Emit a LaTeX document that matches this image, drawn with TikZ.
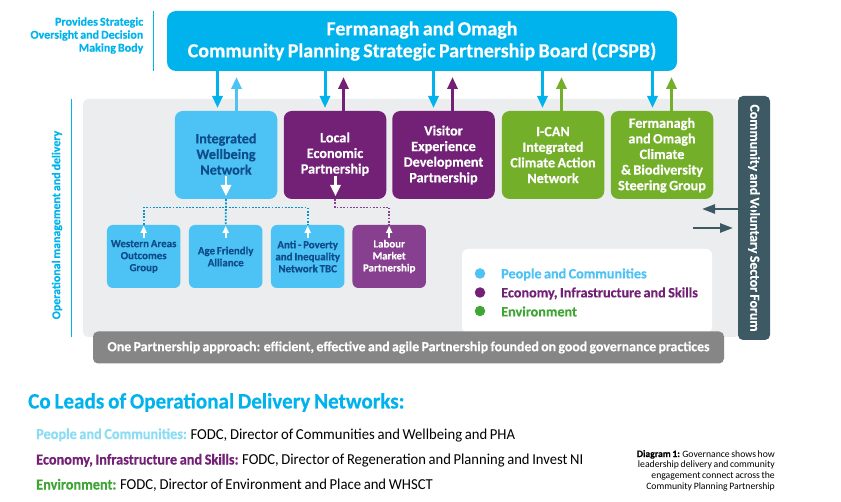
\documentclass[tikz,border=0pt]{standalone}
\usepackage{fontspec}
\setmainfont{Carlito}[WordSpace=0.75,BoldFeatures={FakeBold=0.35}]
\newfontfamily\cndb{Carlito}[FakeStretch=0.94,WordSpace=0.8,BoldFeatures={FakeBold=0.35}]
\newfontfamily\cndr{Carlito}[FakeStretch=0.96,WordSpace=0.8]
\newfontfamily\cndw{Carlito}[FakeStretch=0.965,WordSpace=0.8]
\newfontfamily\cndh{Carlito}[FakeStretch=0.96,WordSpace=0.8,BoldFeatures={FakeBold=0.35}]
\usetikzlibrary{arrows.meta,calc}
\definecolor{boardc}{HTML}{00B3EC}
\definecolor{peoplec}{HTML}{4DC3F5}
\definecolor{navyc}{HTML}{0F4C8A}
\definecolor{purplec}{HTML}{722176}
\definecolor{subpurple}{HTML}{86408F}
\definecolor{greenc}{HTML}{74AF2A}
\definecolor{legendgreen}{HTML}{3FA535}
\definecolor{panelc}{HTML}{EBEDEE}
\definecolor{forumc}{HTML}{3D5A64}
\definecolor{barc}{HTML}{868686}
\definecolor{palec}{HTML}{8ADDF5}
\tikzset{
  big/.style={line width=3pt,-{Triangle[width=10pt,length=12pt]}},
  dots/.style={line width=1.8pt,dash pattern=on 1.8pt off 1.5pt},
  whitearrow/.style={draw=white,line width=2.5pt,-{Triangle[width=10pt,length=11pt]},color=white},
  smallwhite/.style={draw=white,line width=1.6pt,-{Triangle[width=6pt,length=7pt]},color=white},
  mainbox/.style={rounded corners=8pt,minimum width=102.5pt,minimum height=88pt,inner sep=0pt,align=center,font=\fontsize{14.2}{15.6}\selectfont\bfseries},
  subbox/.style={rounded corners=6pt,minimum width=73.5pt,minimum height=63pt,inner sep=0pt,align=center,font=\fontsize{10.9}{12}\selectfont\bfseries},
  lead/.style={anchor=base west,inner sep=0pt,font=\fontsize{15.2}{16}\selectfont},
  legendtext/.style={anchor=west,inner sep=0pt,font=\fontsize{14.2}{15}\selectfont\bfseries},
  dotn/.style={circle,minimum size=10.5pt,inner sep=0pt}
}
\begin{document}
\begin{tikzpicture}[x=1pt,y=-1pt]
\useasboundingbox (0,0) rectangle (841,502);
\fill[white] (0,0) rectangle (841,502);
% panel and side rules
\node[fill=panelc,rounded corners=5pt,minimum width=657pt,minimum height=238pt,inner sep=0pt] (panel) at (411.5,218) {};
\coordinate (rulea) at (153.5,11); \coordinate (ruleb) at (153.5,71);
\draw[boardc,line width=1pt] (rulea) -- (ruleb);
\coordinate (rulec) at (71.5,99); \coordinate (ruled) at (71.5,337);
\draw[boardc,line width=1pt] (rulec) -- (ruled);
\node[anchor=east,align=right,inner sep=0pt,text=boardc,font=\fontsize{12}{13}\selectfont\bfseries] (provides) at (143.5,35.5) {Provides Strategic\\Oversight and Decision\\Making Body};
\node[rotate=90,inner sep=0pt,text=boardc,font=\fontsize{11.9}{13}\selectfont\bfseries] (opsl) at (57,225) {Operational management and delivery};
% board
\node[fill=boardc,text=white,rounded corners=9pt,minimum width=510pt,minimum height=60pt,inner sep=0pt,align=center,font=\fontsize{20}{22}\selectfont\bfseries] (board) at (422,41) {Fermanagh and Omagh\\Community Planning Strategic Partnership Board (CPSPB)};
% main boxes
\node[mainbox,fill=peoplec,text=navyc] (iw) at (226,155) {Integrated\\Wellbeing\\Network\\[-13.6pt]};
\node[mainbox,fill=purplec,text=white] (le) at (335,155) {Local\\Economic\\Partnership\\[-11.6pt]};
\node[mainbox,fill=purplec,text=white] (ve) at (443.5,155) {Visitor\\Experience\\Development\\Partnership};
\node[mainbox,fill=greenc,text=white] (ican) at (553,155) {I-CAN\\Integrated\\Climate Action\\Network};
\node[mainbox,fill=greenc,text=white] (fo) at (662,155) {Fermanagh\\and Omagh\\Climate\\\& Biodiversity\\Steering Group\\[-13.6pt]};
% sub boxes
\node[subbox,fill=peoplec,text=navyc] (wa) at (143.7,256.5) {Western Areas\\Outcomes\\Group};
\node[subbox,fill=peoplec,text=navyc] (af) at (225.7,256.5) {Age Friendly\\Alliance};
\node[subbox,fill=peoplec,text=navyc] (ap) at (307.7,256.5) {Anti - Poverty\\and Inequality\\Network TBC};
\node[subbox,fill=subpurple,text=white] (lm) at (389.2,256.5) {Labour\\Market\\Partnership};
% legend
\node[fill=white,rounded corners=6pt,minimum width=250pt,minimum height=84pt,inner sep=0pt] (legend) at (587,291) {};
\node[dotn,fill=peoplec] (d1) at (480,273.5) {};
\node[dotn,fill=purplec] (d2) at (480,292.5) {};
\node[dotn,fill=legendgreen] (d3) at (480,311) {};
\node[legendtext,text=peoplec] (l1) at (501,274.5) {People and Communities};
\node[legendtext,text=purplec] (l2) at (501,293.5) {Economy, Infrastructure and Skills};
\node[legendtext,text=legendgreen] (l3) at (501,311.5) {Environment};
% forum and bar
\node[fill=forumc,text=white,rounded corners=5pt,minimum width=244pt,minimum height=32pt,inner sep=0pt,rotate=-90,font=\fontsize{13.8}{15}\selectfont\bfseries] (forum) at (754,218) {Community and Voluntary Sector Forum};
\node[fill=barc,text=white,rounded corners=5pt,minimum width=631pt,minimum height=32pt,inner sep=0pt,font=\fontsize{13.85}{15}\selectfont\bfseries] (bar) at (408.5,347.5) {One Partnership approach: efficient, effective and agile Partnership founded on good governance practices};
% board arrows
\foreach \nm/\dx/\ux/\col in {iw/217.5/236.5/peoplec,le/325/343.5/purplec,ve/433.5/452.5/purplec,ican/542.5/561.5/greenc,fo/652.5/671.5/greenc}{
  \coordinate (dn\nm) at (\dx,108);
  \coordinate (up\nm) at (\ux,77);
  \draw[big,color=boardc] (board.south -| dn\nm) -- (dn\nm);
  \draw[big,color=\col] (\nm.north -| up\nm) -- (up\nm);
}
% forum arrows
\coordinate (fa) at (702,209);
\draw[line width=2.5pt,forumc,-{Triangle[width=9pt,length=13pt]}] (forum.north |- fa) ++(-1,0) -- (fa);
\coordinate (fb1) at (693,228); \coordinate (fb2) at (733,228);
\draw[line width=2.5pt,forumc,-{Triangle[width=9pt,length=13pt]}] (fb1) -- (fb2);
% dotted links
\coordinate (j1) at (226,207.5);
\draw[dots,color=boardc!70!navyc] (iw.south) -- (af.north);
\draw[dots,color=boardc!70!navyc] (wa.north) -- (wa.north |- j1) -- (ap.north |- j1) -- (ap.north);
\coordinate (j2) at (335,207.5);
\draw[dots,color=subpurple] (le.south) -- (j2) -- (lm.north |- j2) -- (lm.north);
% white arrows
\coordinate (ta1) at (226,196); \coordinate (ta2) at (335.5,196);
\draw[whitearrow] ($(ta1)+(0,-20)$) -- (ta1);
\draw[whitearrow] ($(ta2)+(0,-20)$) -- (ta2);
\foreach \nm in {wa,af,ap,lm}{
  \draw[smallwhite] ($(\nm.north)+(0,13)$) -- ($(\nm.north)+(0,1)$);
}
% leads
\node[anchor=base west,inner sep=0pt,text=boardc,font=\cndh\fontsize{22}{24}\selectfont\bfseries] (head) at (28,408.5) {Co Leads of Operational Delivery Networks:};
\node[lead] (p) at (36,439) {\textcolor{palec}{\cndb\bfseries People and Communities:} {\cndw FODC, Director of Communities and Wellbeing and PHA}};
\node[lead] (e) at (36,464.5) {\textcolor{purplec}{\cndb\bfseries Economy, Infrastructure and Skills:} {\cndr FODC, Director of Regeneration and Planning and Invest NI}};
\node[lead] (v) at (36,489.5) {\textcolor{legendgreen}{\cndb\bfseries Environment:} {\cndw FODC, Director of Environment and Place and WHSCT}};
\node[anchor=north east,align=right,inner sep=0pt,font=\fontsize{9.7}{10.7}\selectfont] (cap) at (775,450) {\textbf{Diagram 1:} Governance shows how\\leadership delivery and community\\engagement connect across the\\Community Planning Partnership};
\end{tikzpicture}
\end{document}
